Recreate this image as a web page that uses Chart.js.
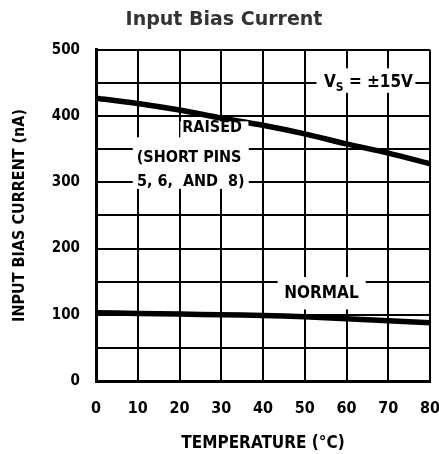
<!DOCTYPE html>
<html lang="en">
<head>
  <meta charset="UTF-8">
  <title>Input Bias Current</title>
  <script src="https://cdn.jsdelivr.net/npm/chart.js"></script>
  <style>
    body {
      margin: 0;
      padding: 0;
      background-color: #ffffff;
    }
    .chart-box {
      width: 439px;
      height: 454px;
    }
  </style>
</head>
<body>
  <div class="chart-box">
    <canvas id="biasChart"></canvas>
  </div>

  <script>
    // temperature (°C) and input bias current (nA)
    const temperatures = [0, 10, 20, 30, 40, 50, 60, 70, 80];
    const raisedBias = [427, 419, 409, 397, 386, 373, 358, 344, 328];
    const normalBias = [103, 102, 101, 100, 99, 97, 94, 91, 88];
    const xTicks = [0, 10, 20, 30, 40, 50, 60, 70, 80];
    const yTicks = [0, 100, 200, 300, 400, 500];

    const condensed = '"DejaVu Sans Condensed", "DejaVu Sans", sans-serif';

    function toPoints(values) {
      return temperatures.map((t, i) => ({ x: t, y: values[i] }));
    }

    // white box in data units, so the grid is cut behind the labels
    function clearBox(chart, x0, y0, x1, y1) {
      const x = chart.scales.x;
      const y = chart.scales.y;
      const px = x.getPixelForValue(x0);
      const py = y.getPixelForValue(y0);
      chart.ctx.fillRect(px, py, x.getPixelForValue(x1) - px, y.getPixelForValue(y1) - py);
    }

    const plotLabels = {
      id: 'plotLabels',
      afterDatasetsDraw(chart) {
        const ctx = chart.ctx;
        const x = chart.scales.x;
        const y = chart.scales.y;
        ctx.save();
        ctx.fillStyle = '#ffffff';

        clearBox(chart, 52.8, 472, 76.5, 435);   // V_S
        clearBox(chart, 20.2, 392, 36.5, 365);   // RAISED
        clearBox(chart, 8.8, 368, 36.6, 290);    // SHORT PINS
        clearBox(chart, 43.5, 157, 64.6, 108);   // NORMAL

        ctx.fillStyle = '#000000';
        ctx.textAlign = 'center';
        ctx.textBaseline = 'middle';
        ctx.font = 'bold 16px ' + condensed;
        ctx.fillText('RAISED', x.getPixelForValue(27.8), y.getPixelForValue(382));
        ctx.fillText('(SHORT PINS', x.getPixelForValue(22.3), y.getPixelForValue(337));
        ctx.fillText('5, 6,  AND  8)', x.getPixelForValue(22.7), y.getPixelForValue(300));
        ctx.font = 'bold 17px ' + condensed;
        ctx.fillText('NORMAL', x.getPixelForValue(54), y.getPixelForValue(132));

        // V_S = ±15V with a subscript S
        let vx = x.getPixelForValue(54.6);
        const vy = y.getPixelForValue(450);
        ctx.textAlign = 'left';
        ctx.font = 'bold 17px ' + condensed;
        ctx.fillText('V', vx, vy);
        vx += ctx.measureText('V').width;
        ctx.font = 'bold 12px ' + condensed;
        ctx.fillText('S', vx, vy + 5);
        vx += ctx.measureText('S').width;
        ctx.font = 'bold 17px ' + condensed;
        ctx.fillText(' = \u00b115V', vx, vy);
        ctx.restore();
      }
    };

    const ctx = document.getElementById('biasChart').getContext('2d');
    new Chart(ctx, {
      type: 'line',
      data: {
        datasets: [{
          label: 'Raised',
          data: toPoints(raisedBias),
          borderColor: '#000000',
          borderWidth: 5.5,
          pointRadius: 0,
          tension: 0.3
        }, {
          label: 'Normal',
          data: toPoints(normalBias),
          borderColor: '#000000',
          borderWidth: 5.5,
          pointRadius: 0,
          tension: 0.3
        }]
      },
      options: {
        responsive: true,
        maintainAspectRatio: false,
        animation: false,
        layout: {
          padding: { left: 18, right: 9, top: 0, bottom: 0 }
        },
        scales: {
          x: {
            type: 'linear',
            min: 0,
            max: 80,
            afterFit(scale) {
              scale.height = 73;
              scale.paddingLeft = 0;
              scale.paddingRight = 0;
            },
            afterBuildTicks(scale) { scale.ticks = xTicks.map(v => ({ value: v })); },
            border: { color: '#000000', width: 3 },
            grid: { color: '#000000', lineWidth: 2, drawTicks: false, tickLength: 0 },
            ticks: {
              color: '#000000',
              padding: 18,
              maxRotation: 0,
              font: { family: condensed, size: 16, weight: 'bold' }
            },
            title: {
              display: true,
              text: 'TEMPERATURE (\u00b0C)',
              color: '#000000',
              padding: { top: 0, bottom: 0 },
              font: { family: condensed, size: 17, weight: 'bold' }
            }
          },
          y: {
            min: 0,
            max: 500,
            afterFit(scale) {
              scale.width = 78;
              scale.paddingTop = 0;
              scale.paddingBottom = 0;
            },
            afterBuildTicks(scale) {
              const t = [];
              for (let v = 0; v <= 500; v += 50) t.push({ value: v });
              scale.ticks = t;
            },
            border: { color: '#000000', width: 3 },
            grid: { color: '#000000', lineWidth: 2, drawTicks: false, tickLength: 0 },
            ticks: {
              color: '#000000',
              padding: 16,
              callback: v => (yTicks.includes(v) ? String(v) : ''),
              font: { family: condensed, size: 15, weight: 'bold' }
            },
            title: {
              display: true,
              text: 'INPUT BIAS CURRENT (nA)',
              color: '#000000',
              padding: { top: -8, bottom: 0 },
              font: { family: condensed, size: 16, weight: 'bold' }
            }
          }
        },
        plugins: {
          legend: { display: false },
          tooltip: { enabled: false },
          title: {
            display: true,
            text: 'Input Bias Current',
            color: '#333333',
            padding: { top: 9, bottom: 18 },
            font: { family: '"DejaVu Sans", sans-serif', size: 19, weight: 'bold' }
          }
        }
      },
      plugins: [plotLabels]
    });
  </script>
</body>
</html>
